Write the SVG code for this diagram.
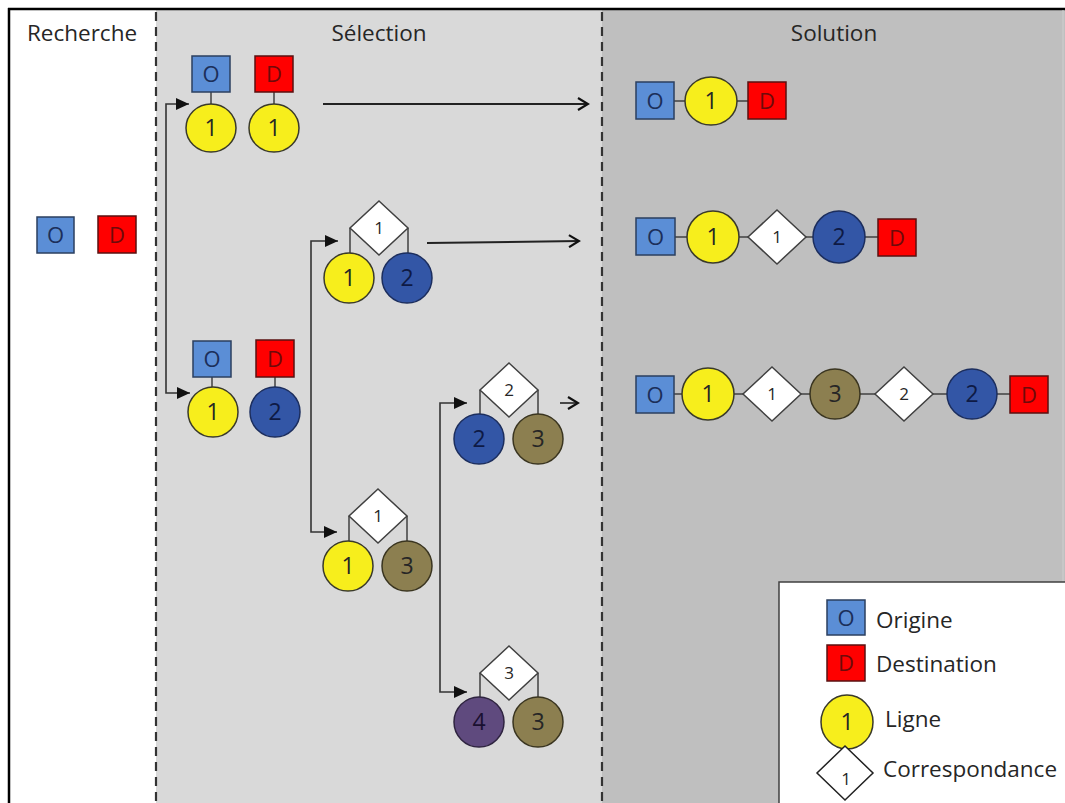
<svg xmlns="http://www.w3.org/2000/svg" width="1065" height="803" viewBox="0 0 1065 803">
<defs>
<style>
.t{font-family:"Open Sans","Liberation Sans",sans-serif;text-anchor:middle}
.title{font-size:22.5px;fill:#262626}
.sq{stroke-width:1.5}
.o{fill:#5b8ed6;stroke:#2b3f5f}
.d{fill:#ff0000;stroke:#5a1010}
.ot{font-size:22px;fill:#1c2f5a}
.dt{font-size:22px;fill:#6e0a0a}
.ly{fill:#f7ee1c;stroke:#3a3a2a;stroke-width:1.5}
.lb{fill:#3356a6;stroke:#1c2e5e;stroke-width:1.5}
.lo{fill:#8c7f50;stroke:#3a3520;stroke-width:1.5}
.lp{fill:#5f4a7e;stroke:#2f2440;stroke-width:1.5}
.nt{font-size:23px;fill:#262626}
.nb{font-size:23px;fill:#0e1a45}
.cr{fill:#ffffff;stroke:#404040;stroke-width:1.5}
.ct{font-size:17px;fill:#262626}
.lk{stroke:#404040;stroke-width:1.5;fill:none}
.br{stroke:#333;stroke-width:1.6;fill:none}
.dash{stroke:#333;stroke-width:2.2;stroke-dasharray:9 6}
.lg{font-size:22.5px;fill:#262626;font-family:"Open Sans","Liberation Sans",sans-serif}
</style>
<marker id="tri" markerUnits="userSpaceOnUse" markerWidth="14" markerHeight="12" refX="13" refY="6" orient="auto">
<path d="M0,0 L13,6 L0,12 z" fill="#111"/>
</marker>
<marker id="chev" markerUnits="userSpaceOnUse" markerWidth="14" markerHeight="14" refX="12" refY="7" orient="auto">
<path d="M2,1 L12,7 L2,13" fill="none" stroke="#111" stroke-width="2.2"/>
</marker>
</defs>

<!-- panels -->
<rect x="0" y="0" width="1065" height="803" fill="#ffffff"/>
<rect x="9" y="10" width="147" height="793" fill="#ffffff"/>
<rect x="156" y="10" width="446" height="793" fill="#d9d9d9"/>
<rect x="602" y="10" width="463" height="793" fill="#bfbfbf"/>
<line x1="8" y1="9" x2="1065" y2="9" stroke="#000" stroke-width="2.5"/>
<line x1="9" y1="8" x2="9" y2="803" stroke="#000" stroke-width="2.5"/>
<line x1="1063" y1="10" x2="1063" y2="803" stroke="#cfcfcf" stroke-width="1"/>
<line class="dash" x1="156" y1="12" x2="156" y2="803"/>
<line class="dash" x1="602" y1="12" x2="602" y2="803"/>

<text class="t title" x="82" y="41">Recherche</text>
<text class="t title" x="379" y="41">Sélection</text>
<text class="t title" x="834" y="41">Solution</text>

<!-- Recherche -->
<g id="rech-o"><rect class="sq o" x="37" y="217" width="37" height="36"/><text class="t ot" x="55.5" y="243">O</text></g>
<g id="rech-d"><rect class="sq d" x="98" y="216" width="38" height="37"/><text class="t dt" x="117" y="243">D</text></g>

<!-- connectors -->
<g id="connectors">
<path class="br" d="M166,250 V104 H189" marker-end="url(#tri)"/>
<path class="br" d="M166,250 V393 H190" marker-end="url(#tri)"/>
<path class="br" d="M311,390 V241 H338" marker-end="url(#tri)"/>
<path class="br" d="M311,390 V532 H337" marker-end="url(#tri)"/>
<path class="br" d="M440,550 V403 H467" marker-end="url(#tri)"/>
<path class="br" d="M440,550 V692 H467" marker-end="url(#tri)"/>
<line x1="323" y1="104" x2="588" y2="104" stroke="#222" stroke-width="2" marker-end="url(#chev)"/>
<line x1="427" y1="243" x2="579" y2="241" stroke="#222" stroke-width="2" marker-end="url(#chev)"/>
<line x1="560" y1="403" x2="578" y2="403" stroke="#222" stroke-width="1.6" marker-end="url(#chev)"/>
<!-- internal links selection -->
<line class="lk" x1="211" y1="92" x2="211" y2="104"/>
<line class="lk" x1="274" y1="92" x2="274" y2="104"/>
<line class="lk" x1="212" y1="377" x2="212" y2="387"/>
<line class="lk" x1="275" y1="377" x2="275" y2="387"/>
<path class="lk" d="M350,228 V253 M408,228 V253"/>
<path class="lk" d="M349,516 V541 M407,516 V541"/>
<path class="lk" d="M480,390 V414 M538,390 V414"/>
<path class="lk" d="M480,673 V697 M538,673 V697"/>
<!-- solution links -->
<line class="lk" x1="674" y1="101" x2="748" y2="101"/>
<line class="lk" x1="675" y1="237" x2="878" y2="237"/>
<line class="lk" x1="674" y1="394" x2="1010" y2="394"/>
</g>

<!-- Selection group 1 -->
<g id="sel-o1"><rect class="sq o" x="192" y="56" width="38" height="36"/><text class="t ot" x="211" y="82">O</text></g>
<g id="sel-d1"><rect class="sq d" x="255" y="56" width="38" height="36"/><text class="t dt" x="274" y="82">D</text></g>
<g id="sel-l1a"><ellipse class="ly" cx="211" cy="128" rx="25" ry="24"/><text class="t nt" x="211" y="136">1</text></g>
<g id="sel-l1b"><ellipse class="ly" cx="274" cy="128" rx="25" ry="24"/><text class="t nt" x="274" y="136">1</text></g>

<!-- Selection group 2 -->
<g id="sel-o2"><rect class="sq o" x="193" y="341" width="38" height="36"/><text class="t ot" x="212" y="367">O</text></g>
<g id="sel-d2"><rect class="sq d" x="256" y="340" width="38" height="37"/><text class="t dt" x="275" y="367">D</text></g>
<g id="sel-l2a"><circle class="ly" cx="213" cy="412" r="25"/><text class="t nt" x="213" y="420">1</text></g>
<g id="sel-l2b"><circle class="lb" cx="275" cy="412" r="25"/><text class="t nb" x="275" y="420">2</text></g>

<!-- Group A -->
<g id="selA-c"><path class="cr" d="M379,201 L408,228 L379,255 L350,228 z"/><text class="t ct" x="379" y="234">1</text></g>
<g id="selA-l1"><circle class="ly" cx="349" cy="278" r="25"/><text class="t nt" x="349" y="286">1</text></g>
<g id="selA-l2"><circle class="lb" cx="407" cy="278" r="25"/><text class="t nb" x="407" y="286">2</text></g>

<!-- Group B -->
<g id="selB-c"><path class="cr" d="M378,489 L407,516 L378,543 L349,516 z"/><text class="t ct" x="378" y="522">1</text></g>
<g id="selB-l1"><circle class="ly" cx="348" cy="566" r="25"/><text class="t nt" x="348" y="574">1</text></g>
<g id="selB-l3"><circle class="lo" cx="407" cy="566" r="25"/><text class="t nt" x="407" y="574">3</text></g>

<!-- Group C -->
<g id="selC-c"><path class="cr" d="M509,363 L538,390 L509,417 L480,390 z"/><text class="t ct" x="509" y="396">2</text></g>
<g id="selC-l2"><circle class="lb" cx="479" cy="439" r="25"/><text class="t nb" x="479" y="447">2</text></g>
<g id="selC-l3"><circle class="lo" cx="538" cy="439" r="25"/><text class="t nt" x="538" y="447">3</text></g>

<!-- Group D -->
<g id="selD-c"><path class="cr" d="M509,646 L538,673 L509,700 L480,673 z"/><text class="t ct" x="509" y="679">3</text></g>
<g id="selD-l4"><circle class="lp" cx="479" cy="722" r="25"/><text class="t nt" x="479" y="730" style="fill:#1a1030">4</text></g>
<g id="selD-l3"><circle class="lo" cx="538" cy="722" r="25"/><text class="t nt" x="538" y="730">3</text></g>

<!-- Solution row 1 -->
<g id="sol1-o"><rect class="sq o" x="636" y="82" width="38" height="37"/><text class="t ot" x="655" y="109">O</text></g>
<g id="sol1-l1"><ellipse class="ly" cx="711" cy="101" rx="26" ry="24"/><text class="t nt" x="711" y="109">1</text></g>
<g id="sol1-d"><rect class="sq d" x="748" y="82" width="38" height="37"/><text class="t dt" x="767" y="109">D</text></g>

<!-- Solution row 2 -->
<g id="sol2-o"><rect class="sq o" x="636" y="218" width="39" height="37"/><text class="t ot" x="655.5" y="245">O</text></g>
<g id="sol2-l1"><circle class="ly" cx="713" cy="237" r="26"/><text class="t nt" x="713" y="245">1</text></g>
<g id="sol2-c1"><path class="cr" d="M777,210 L806,237 L777,264 L748,237 z"/><text class="t ct" x="777" y="243">1</text></g>
<g id="sol2-l2"><circle class="lb" cx="839" cy="237" r="26"/><text class="t nb" x="839" y="245">2</text></g>
<g id="sol2-d"><rect class="sq d" x="878" y="219" width="38" height="37"/><text class="t dt" x="897" y="246">D</text></g>

<!-- Solution row 3 -->
<g id="sol3-o"><rect class="sq o" x="636" y="376" width="38" height="37"/><text class="t ot" x="655" y="403">O</text></g>
<g id="sol3-l1"><circle class="ly" cx="708" cy="394" r="26"/><text class="t nt" x="708" y="402">1</text></g>
<g id="sol3-c1"><path class="cr" d="M772,367 L801,394 L772,421 L743,394 z"/><text class="t ct" x="772" y="400">1</text></g>
<g id="sol3-l3"><circle class="lo" cx="835" cy="394" r="25"/><text class="t nt" x="835" y="402">3</text></g>
<g id="sol3-c2"><path class="cr" d="M904,367 L933,394 L904,421 L875,394 z"/><text class="t ct" x="904" y="400">2</text></g>
<g id="sol3-l2"><circle class="lb" cx="972" cy="394" r="25"/><text class="t nb" x="972" y="402">2</text></g>
<g id="sol3-d"><rect class="sq d" x="1010" y="376" width="38" height="37"/><text class="t dt" x="1029" y="403">D</text></g>

<!-- Legend -->
<g id="legend">
<rect x="779" y="582" width="300" height="240" fill="#ffffff" stroke="#404040" stroke-width="1.5"/>
<rect class="sq o" x="827" y="600" width="38" height="35"/><text class="t ot" x="846" y="626">O</text>
<text class="lg" x="876" y="628">Origine</text>
<rect class="sq d" x="827" y="645" width="38" height="36"/><text class="t dt" x="846" y="671">D</text>
<text class="lg" x="876" y="672">Destination</text>
<ellipse class="ly" cx="847" cy="722" rx="26" ry="27"/><text class="t nt" x="847" y="730">1</text>
<text class="lg" x="885" y="727">Ligne</text>
<path class="cr" d="M845,746 L873,773 L845,800 L817,773 z" style="stroke:#222"/><text class="t ct" x="846" y="785">1</text>
<text class="lg" x="883" y="777">Correspondance</text>
</g>
</svg>
